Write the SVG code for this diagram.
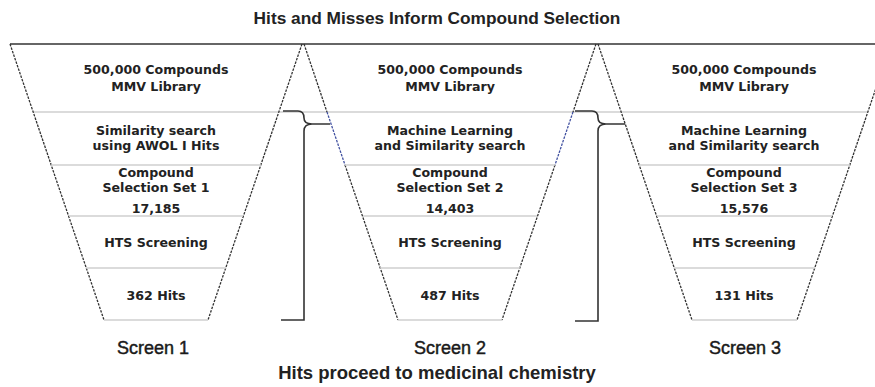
<svg xmlns="http://www.w3.org/2000/svg" width="875" height="387" viewBox="0 0 875 387">
<style>
.bg{fill:#ffffff}
.edge{fill:none;stroke:#333;stroke-width:1.3;stroke-dasharray:2.5 1.2}
.edgeb{fill:none;stroke:#4050a0;stroke-width:1.3;stroke-dasharray:2.5 1.2}
.div{stroke:#cfcfcf;stroke-width:1.5}
.top{stroke:#666;stroke-width:2}
.br{fill:none;stroke:#333;stroke-width:1.6}
.t{font-family:"DejaVu Sans",Verdana,sans-serif;font-weight:bold;font-size:12.6px;fill:#222;text-anchor:middle}
.s{font-family:"Liberation Sans",Arial,sans-serif;font-size:18px;fill:#1a1a1a;stroke:#1a1a1a;stroke-width:0.45;text-anchor:middle}
.h{font-family:"Liberation Sans",Arial,sans-serif;font-weight:bold;fill:#222;text-anchor:middle}
</style>
<rect class="bg" x="0" y="0" width="875" height="387"/>
<text class="h" x="437" y="24" font-size="17.3">Hits and Misses Inform Compound Selection</text>
<line class="top" x1="10" y1="44" x2="875" y2="44"/>
<line class="div" x1="33" y1="112" x2="868" y2="112"/>

<g id="funnel1">
<line class="edge" x1="10" y1="44" x2="104" y2="320"/>
<line class="edge" x1="302" y1="44" x2="208" y2="320"/>
<line class="div" x1="51" y1="165" x2="261" y2="165"/>
<line class="div" x1="69" y1="216" x2="243" y2="216"/>
<line class="div" x1="86" y1="268" x2="226" y2="268"/>
<line class="div" x1="104" y1="320" x2="208" y2="320"/>
<text class="t" x="156" y="74">500,000 Compounds</text>
<text class="t" x="156" y="91">MMV Library</text>
<text class="t" x="156" y="135">Similarity search</text>
<text class="t" x="156" y="150">using AWOL I Hits</text>
<text class="t" x="156" y="177">Compound</text>
<text class="t" x="156" y="192">Selection Set 1</text>
<text class="t" x="156" y="213">17,185</text>
<text class="t" x="156" y="247">HTS Screening</text>
<text class="t" x="156" y="300">362 Hits</text>
<text class="s" x="153" y="354">Screen 1</text>
</g>

<g id="funnel2">
<line class="edge" x1="304" y1="44" x2="327" y2="112"/>
<line class="edgeb" x1="327" y1="112" x2="345" y2="165"/>
<line class="edge" x1="345" y1="165" x2="398" y2="320"/>
<line class="edge" x1="596" y1="44" x2="573" y2="112"/>
<line class="edgeb" x1="573" y1="112" x2="555" y2="165"/>
<line class="edge" x1="555" y1="165" x2="502" y2="320"/>
<line class="div" x1="345" y1="165" x2="555" y2="165"/>
<line class="div" x1="363" y1="216" x2="537" y2="216"/>
<line class="div" x1="380" y1="268" x2="520" y2="268"/>
<line class="div" x1="398" y1="320" x2="502" y2="320"/>
<text class="t" x="450" y="74">500,000 Compounds</text>
<text class="t" x="450" y="91">MMV Library</text>
<text class="t" x="450" y="135">Machine Learning</text>
<text class="t" x="450" y="150">and Similarity search</text>
<text class="t" x="450" y="177">Compound</text>
<text class="t" x="450" y="192">Selection Set 2</text>
<text class="t" x="450" y="213">14,403</text>
<text class="t" x="450" y="247">HTS Screening</text>
<text class="t" x="450" y="300">487 Hits</text>
<text class="s" x="450" y="354">Screen 2</text>
</g>

<g id="funnel3">
<line class="edge" x1="598" y1="44" x2="692" y2="320"/>
<line class="edge" x1="891" y1="44" x2="797" y2="320"/>
<line class="div" x1="639" y1="165" x2="850" y2="165"/>
<line class="div" x1="657" y1="216" x2="832" y2="216"/>
<line class="div" x1="674" y1="268" x2="815" y2="268"/>
<line class="div" x1="692" y1="320" x2="797" y2="320"/>
<text class="t" x="744" y="74">500,000 Compounds</text>
<text class="t" x="744" y="91">MMV Library</text>
<text class="t" x="744" y="135">Machine Learning</text>
<text class="t" x="744" y="150">and Similarity search</text>
<text class="t" x="744" y="177">Compound</text>
<text class="t" x="744" y="192">Selection Set 3</text>
<text class="t" x="744" y="213">15,576</text>
<text class="t" x="744" y="247">HTS Screening</text>
<text class="t" x="744" y="300">131 Hits</text>
<text class="s" x="745" y="354">Screen 3</text>
</g>

<g id="connectors">
<path class="br" d="M283,111 H298 Q304,111 304,118 Q304,124 312,124 H330 M312,124 Q304,124 304,131 V320 H281"/>
<path class="br" d="M575,111 H592 Q598,111 598,118 Q598,124 606,124 H625 M606,124 Q598,124 598,131 V321 H575"/>
</g>

<text class="h" x="437" y="379" font-size="18.5">Hits proceed to medicinal chemistry</text>
</svg>
